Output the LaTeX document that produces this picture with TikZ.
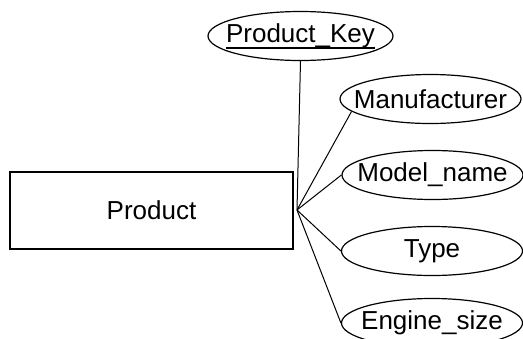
\documentclass[tikz,border=0pt]{standalone}
\usepackage{fontspec}
\setmainfont{Liberation Sans}
\usepackage{tikz}
\usetikzlibrary{shapes.geometric}
\newcommand\keyul[1]{\setbox0\hbox{#1}\rlap{\rule[-6.5pt]{\wd0}{1.4pt}}\box0}
\newcommand\attrtxt[1]{\makebox[0pt]{#1}}
\tikzset{
  erentity/.style={draw,line width=1.1pt,minimum width=283pt,minimum height=77pt,inner sep=0pt,font=\fontsize{26}{30}\selectfont},
  erattr/.style={draw,ellipse,line width=1.2pt,minimum width=181pt,minimum height=49pt,inner sep=0pt,font=\fontsize{26}{30}\selectfont},
  erlink/.style={line width=1pt},
}
\begin{document}
\begin{tikzpicture}[x=1pt,y=-1pt]
\useasboundingbox (0,0) rectangle (523,338);
\clip (0,0) rectangle (523,338);
\node[erentity] (prod) at (151.5,210.5) {Product};
\node[erattr,minimum width=185pt] (pk) at (300.5,36) {\attrtxt{\keyul{Product\_Key}}};
\node[erattr] (man) at (430.5,99) {\attrtxt{Manufacturer}};
\node[erattr] (mod) at (432.5,175) {\attrtxt{Model\_name}};
\node[erattr] (typ) at (432,251) {\attrtxt{Type}};
\node[erattr] (eng) at (432,323) {\attrtxt{Engine\_size}};
\coordinate (hub) at (297,210);
\draw[erlink](pk.south)--(hub);
\draw[erlink](hub)--(man.189);\draw[erlink](hub)--(mod.west);
\draw[erlink](hub)--(typ.west);\draw[erlink](hub)--(eng.west);
\end{tikzpicture}
\end{document}
